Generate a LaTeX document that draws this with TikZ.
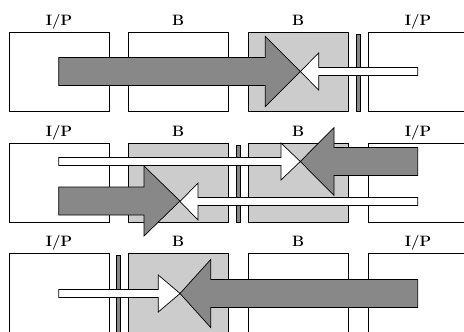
\documentclass[tikz,border=0pt]{standalone}
\usepackage{tikz}
\usetikzlibrary{positioning}
\usepackage{xcolor}

\definecolor{darkfill}{HTML}{888888}
\definecolor{lightfill}{HTML}{CCCCCC}

% block arrow: style, tail x, head base x, tip x, y, shaft half, head half
\newcommand{\blockarrow}[7]{%
  \draw[#1] (#2,#5-#6) -- (#3,#5-#6) -- (#3,#5-#7) -- (#4,#5)
    -- (#3,#5+#7) -- (#3,#5+#6) -- (#2,#5+#6) -- cycle;}

\begin{document}
\begin{tikzpicture}[x=1pt, y=-1pt,
    box/.style={draw, line width=0.7pt, minimum width=100pt, minimum height=79pt, inner sep=0pt},
    shaded/.style={box, fill=lightfill},
    divider/.style={draw, line width=0.6pt, fill=darkfill, minimum width=4pt, minimum height=77pt, inner sep=0pt},
    lbl/.style={font=\fontsize{15}{17}\selectfont\bfseries, anchor=base, inner sep=0pt},
    bigarrow/.style={draw, line width=0.7pt, fill=darkfill},
    thinarrow/.style={draw, line width=0.7pt, fill=white}]
        \useasboundingbox (0,0) rectangle (464,332);
        \clip (0,0) rectangle (464,332);

        % Row 1
        \node[box]    (a1) at (59,71.5)  {};
        \node[box]    (b1) at (178,71.5) {};
        \node[shaded] (c1) at (298,71.5) {};
        \node[box]    (d1) at (418,71.5) {};
        \node[divider] (s1) at (358,72.5) {};
        \node[lbl] (la1) at (59,25)  {I/P};
        \node[lbl] (lb1) at (178,25) {B};
        \node[lbl] (lc1) at (298,25) {B};
        \node[lbl] (ld1) at (418,25) {I/P};
        \blockarrow{bigarrow}{58.7}{265.3}{300.3}{71.5}{14}{35}
        \blockarrow{thinarrow}{417.7}{318.7}{300.3}{71.5}{4}{18.5}

        % Row 2
        \node[box]    (a2) at (59,182.5)  {};
        \node[shaded] (b2) at (178,182.5) {};
        \node[shaded] (c2) at (298,182.5) {};
        \node[box]    (d2) at (418,182.5) {};
        \node[divider] (s2) at (238,183.5) {};
        \node[lbl] (la2) at (59,136)  {I/P};
        \node[lbl] (lb2) at (178,136) {B};
        \node[lbl] (lc2) at (298,136) {B};
        \node[lbl] (ld2) at (418,136) {I/P};
        \blockarrow{thinarrow}{58.7}{281}{300.3}{161.5}{4}{18.5}
        \blockarrow{bigarrow}{417.7}{334}{300.3}{161.5}{14}{34}
        \blockarrow{bigarrow}{58.7}{144}{180}{201}{14}{35}
        \blockarrow{thinarrow}{417.7}{198}{180}{201.5}{4}{18.5}

        % Row 3
        \node[box]    (a3) at (59,293)  {};
        \node[shaded] (b3) at (178,293) {};
        \node[box]    (c3) at (298,293) {};
        \node[box]    (d3) at (418,293) {};
        \node[divider] (s3) at (118,294) {};
        \node[lbl] (la3) at (59,246)  {I/P};
        \node[lbl] (lb3) at (178,246) {B};
        \node[lbl] (lc3) at (298,246) {B};
        \node[lbl] (ld3) at (418,246) {I/P};
        \blockarrow{thinarrow}{58.7}{158.3}{180}{293.5}{4}{18.5}
        \blockarrow{bigarrow}{417.7}{210.7}{180}{293.5}{14}{34}
    \end{tikzpicture}
\end{document}
